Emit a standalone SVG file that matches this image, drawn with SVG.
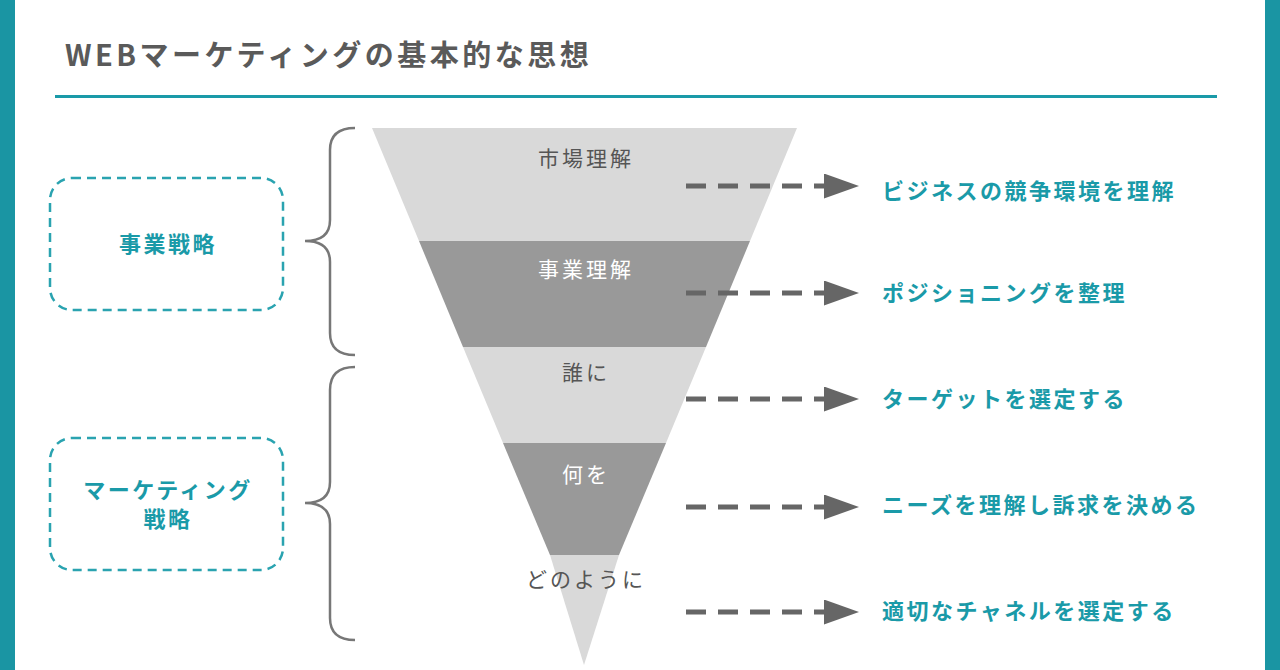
<svg xmlns="http://www.w3.org/2000/svg" width="1280" height="670" viewBox="0 0 1280 670">
<style>
text{font-family:"Noto Sans CJK JP","Noto Sans",sans-serif;font-weight:bold}
.t{fill:#1a9aa8;font-size:22px;letter-spacing:2.5px}
.f{fill:#555;font-size:21px;text-anchor:middle;font-weight:normal;letter-spacing:3px}
.fw{fill:#fff;font-size:21px;text-anchor:middle;font-weight:normal;letter-spacing:3px}
.box{fill:none;stroke:#2aa3b0;stroke-width:2.5;stroke-dasharray:9 6}
.br{fill:none;stroke:#777;stroke-width:2.5}
.ar{stroke:#666;stroke-width:5;stroke-dasharray:20 12}
</style>
<defs><marker id="h" markerWidth="7" markerHeight="5" refX="0" refY="2.5" orient="auto" markerUnits="strokeWidth"><path d="M0,0L0,5L7,2.5z" fill="#666"/></marker></defs>
<rect width="1280" height="670" fill="#fff"/>
<rect x="0" y="0" width="15" height="670" fill="#1a95a3"/>
<rect x="1265" y="0" width="15" height="670" fill="#1a95a3"/>
<text x="65" y="66" fill="#5a5a5a" font-size="29" letter-spacing="3.5">WEBマーケティングの基本的な思想</text>
<rect x="55" y="95" width="1162" height="3" fill="#1a9aa8"/>
<g id="funnel">
<polygon points="372,128 797,128 750,241 419,241" fill="#d9d9d9"/>
<polygon points="419,241 750,241 706,347 463,347" fill="#999"/>
<polygon points="463,347 706,347 666,443 503,443" fill="#d9d9d9"/>
<polygon points="503,443 666,443 619,555 550,555" fill="#999"/>
<polygon points="550,555 619,555 584,665" fill="#d9d9d9"/>
<text class="f" x="586" y="166">市場理解</text>
<text class="fw" x="586" y="277">事業理解</text>
<text class="f" x="586" y="380">誰に</text>
<text class="fw" x="586" y="482">何を</text>
<text class="f" x="586" y="587">どのように</text>
</g>
<g id="n1"><rect class="box" x="50" y="178" width="233" height="132" rx="22"/><text x="168" y="252" class="t" font-size="21" text-anchor="middle">事業戦略</text></g>
<g id="n2"><rect class="box" x="50" y="438" width="233" height="132" rx="22"/><text x="168" y="498" class="t" font-size="21" text-anchor="middle" letter-spacing="1.5">マーケティング</text><text x="168" y="527" class="t" font-size="21" text-anchor="middle">戦略</text></g>
<g id="brackets">
<path class="br" d="M355,128 Q330,128 330,150 L330,220 Q330,241 305,241 Q330,241 330,262 L330,333 Q330,355 355,355"/>
<path class="br" d="M355,367 Q330,367 330,390 L330,482 Q330,503 305,503 Q330,503 330,524 L330,618 Q330,640 355,640"/>
</g>
<g id="connectors">
<line class="ar" x1="686" y1="186" x2="824" y2="186" marker-end="url(#h)"/>
<line class="ar" x1="686" y1="293" x2="824" y2="293" marker-end="url(#h)"/>
<line class="ar" x1="686" y1="399" x2="824" y2="399" marker-end="url(#h)"/>
<line class="ar" x1="686" y1="507" x2="824" y2="507" marker-end="url(#h)"/>
<line class="ar" x1="686" y1="612" x2="824" y2="612" marker-end="url(#h)"/>
</g>
<g id="labels">
<text class="t" x="882" y="199">ビジネスの競争環境を理解</text>
<text class="t" x="882" y="301">ポジショニングを整理</text>
<text class="t" x="882" y="407">ターゲットを選定する</text>
<text class="t" x="882" y="513">ニーズを理解し訴求を決める</text>
<text class="t" x="882" y="619">適切なチャネルを選定する</text>
</g>
</svg>
